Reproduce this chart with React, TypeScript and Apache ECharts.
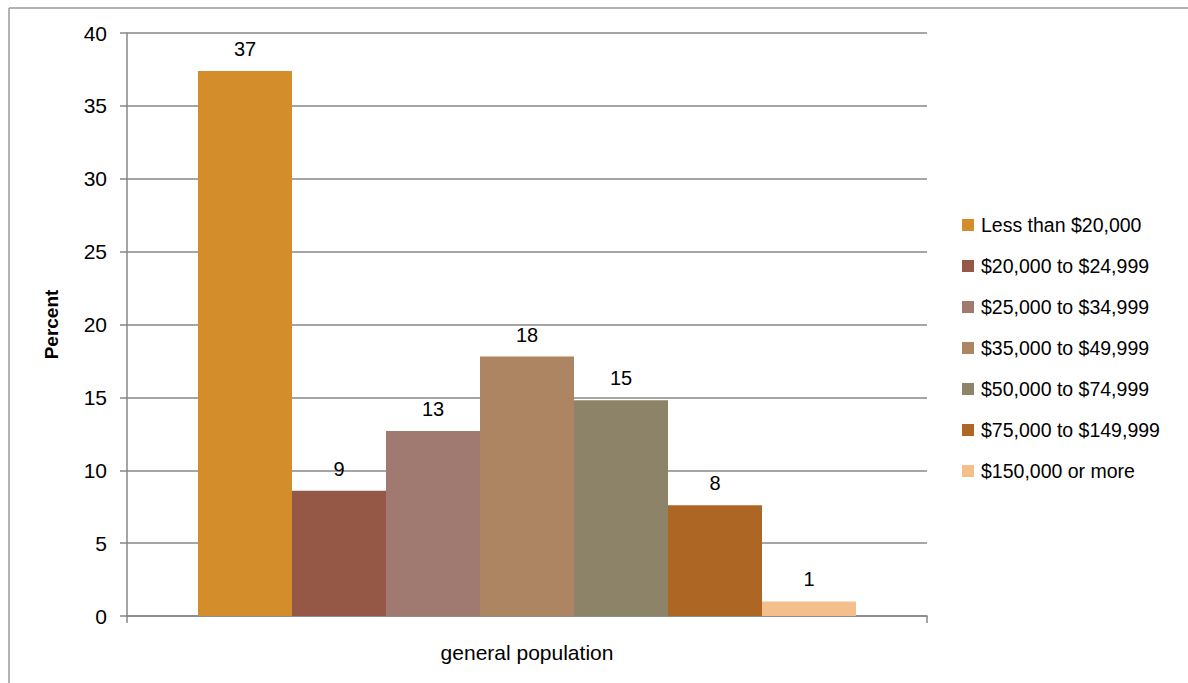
import React, { useEffect, useRef } from "react";
import * as echarts from "echarts";

// Household income distribution, general population (percent)
const categories = ["general population"];
const incomeBrackets = [
  "Less than $20,000",
  "$20,000 to $24,999",
  "$25,000 to $34,999",
  "$35,000 to $49,999",
  "$50,000 to $74,999",
  "$75,000 to $149,999",
  "$150,000 or more",
];
const percentValues = [37.4, 8.6, 12.7, 17.8, 14.8, 7.6, 1.0];
const bracketColors = [
  "#D38D2B",
  "#955846",
  "#A07A70",
  "#AD8562",
  "#8C8368",
  "#AD6623",
  "#F5BF8C",
];
const yTicks = { min: 0, max: 40, interval: 5 };

const FONT = "'Liberation Sans', Arial, Helvetica, sans-serif";
const AXIS_GRAY = "#878787";

export default function App() {
  const ref = useRef<HTMLDivElement>(null);

  useEffect(() => {
    document.body.style.margin = "0";
    if (!ref.current) return;
    const chart = echarts.init(ref.current, undefined, { renderer: "svg" });

    const series = incomeBrackets.map((name, i) => ({
      name,
      type: "bar" as const,
      data: [percentValues[i]],
      itemStyle: { color: bracketColors[i] },
      barGap: "0%",
      barCategoryGap: "17.75%",
      label: {
        show: true,
        position: "top" as const,
        distance: 12,
        fontFamily: FONT,
        fontSize: 20,
        color: "#000",
        formatter: (p: any) => String(Math.round(p.value)),
      },
    }));

    chart.setOption({
      animation: false,
      backgroundColor: "#fff",
      textStyle: { fontFamily: FONT },
      grid: { left: 127, right: 261, top: 33, bottom: 67, containLabel: false },
      graphic: [
        {
          type: "line",
          shape: { x1: 9, y1: 8, x2: 1188, y2: 8 },
          style: { stroke: "#9a9a9a", lineWidth: 1.5 },
        },
        {
          type: "line",
          shape: { x1: 9, y1: 8, x2: 9, y2: 683 },
          style: { stroke: "#9a9a9a", lineWidth: 1.5 },
        },
      ],
      legend: {
        orient: "vertical",
        left: 957,
        top: 210,
        itemWidth: 12,
        itemHeight: 12,
        itemGap: 21,
        icon: "rect",
        textStyle: { fontFamily: FONT, fontSize: 19.5, color: "#000", padding: [0, 0, 0, 2] },
        data: incomeBrackets,
      },
      xAxis: {
        type: "category",
        data: categories,
        axisLine: { lineStyle: { color: AXIS_GRAY, width: 1.5 } },
        axisTick: { show: true, length: 7, lineStyle: { color: AXIS_GRAY, width: 1.5 } },
        axisLabel: { fontFamily: FONT, fontSize: 21, color: "#000", margin: 26 },
      },
      yAxis: {
        type: "value",
        min: yTicks.min,
        max: yTicks.max,
        interval: yTicks.interval,
        name: "Percent",
        nameLocation: "middle",
        nameRotate: 90,
        nameGap: 66,
        nameTextStyle: { fontFamily: FONT, fontSize: 19, fontWeight: "bold", color: "#000" },
        axisLine: { show: true, lineStyle: { color: AXIS_GRAY, width: 1.5 } },
        axisTick: { show: true, length: 7, lineStyle: { color: AXIS_GRAY, width: 1.5 } },
        axisLabel: { fontFamily: FONT, fontSize: 21, color: "#000", margin: 20 },
        splitLine: { show: true, lineStyle: { color: AXIS_GRAY, width: 1.5 } },
      },
      series,
    });

    return () => chart.dispose();
  }, []);

  return <div ref={ref} style={{ width: 1188, height: 683 }} />;
}
